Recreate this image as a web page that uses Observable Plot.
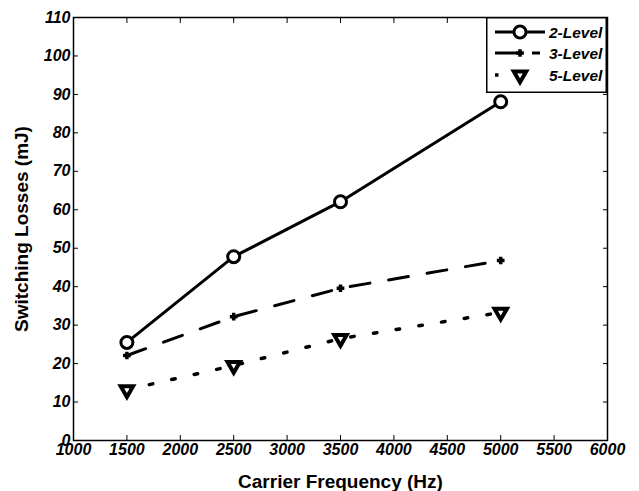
<!DOCTYPE html>
<html>
<head>
<meta charset="utf-8">
<script src="https://cdn.jsdelivr.net/npm/d3@7"></script>
<script src="https://cdn.jsdelivr.net/npm/@observablehq/plot@0.6"></script>
<style>
  html, body { margin: 0; padding: 0; background: #fff; }
  #wrap { position: relative; width: 639px; height: 491px; }
  #legend { position: absolute; left: 486px; top: 17px; }
  g[aria-label="x-axis tick label"], g[aria-label="y-axis tick label"] { font-size: 16px; }
</style>
</head>
<body>
<div id="wrap"></div>
<script>
const frequencies = [1500, 2500, 3500, 5000];
const level2 = [25.5, 47.8, 62.1, 88.1];
const level3 = [22.1, 32.2, 39.6, 46.8];
const level5 = [13.2, 19.5, 26.5, 33.3];
const seriesNames = ["2-Level", "3-Level", "5-Level"];
const xTicks = [1000, 1500, 2000, 2500, 3000, 3500, 4000, 4500, 5000, 5500, 6000];
const yTicks = [0, 10, 20, 30, 40, 50, 60, 70, 80, 90, 100, 110];

const rows = (vals, name) => frequencies.map((f, i) => ({f, v: vals[i], s: name}));
const d2 = rows(level2, seriesNames[0]);
const d3r = rows(level3, seriesNames[1]);
const d5 = rows(level5, seriesNames[2]);

const font = "'Liberation Sans', Arial, Helvetica, sans-serif";
const blank = () => "";
const plain = d3.format("d");

const chart = Plot.plot({
  width: 639,
  height: 491,
  marginLeft: 73,
  marginRight: 32,
  marginTop: 17,
  marginBottom: 51,
  x: {domain: [1000, 6000]},
  y: {domain: [0, 110]},
  style: {fontFamily: font, fontSize: "16px", fontWeight: "bold", fontStyle: "italic", color: "black", background: "white"},
  marks: [
    // tick labels
    Plot.axisX(xTicks, {anchor: "bottom", tickSize: 0, tickPadding: 3, label: null, tickFormat: plain, fontSize: 16, fontWeight: "bold", fontStyle: "italic"}),
    Plot.axisY(yTicks, {anchor: "left", tickSize: 0, tickPadding: 3, label: null, tickFormat: plain, fontSize: 16, fontWeight: "bold", fontStyle: "italic"}),
    // inward ticks on all four sides
    Plot.axisX(xTicks, {anchor: "bottom", tickSize: 5, dy: -5, tickFormat: blank, label: null, strokeWidth: 1}),
    Plot.axisX(xTicks, {anchor: "top", tickSize: 5, dy: 5, tickFormat: blank, label: null, strokeWidth: 1}),
    Plot.axisY(yTicks, {anchor: "left", tickSize: 5, dx: 5, tickFormat: blank, label: null, strokeWidth: 1}),
    Plot.axisY(yTicks, {anchor: "right", tickSize: 5, dx: -5, tickFormat: blank, label: null, strokeWidth: 1}),
    // axis titles
    Plot.axisX([], {anchor: "bottom", tickSize: 0, label: "Carrier Frequency (Hz)", labelAnchor: "center", labelArrow: "none", labelOffset: 47, fontSize: 19, fontWeight: "bold", fontStyle: "normal"}),
    Plot.axisY([], {anchor: "left", tickSize: 0, label: "Switching Losses (mJ)", labelAnchor: "center", labelArrow: "none", labelOffset: 59, fontSize: 19, fontWeight: "bold", fontStyle: "normal"}),
    Plot.frame({stroke: "black", strokeWidth: 1.5}),
    // series
    Plot.line(d2, {x: "f", y: "v", stroke: "black", strokeWidth: 3}),
    Plot.line(d3r, {x: "f", y: "v", stroke: "black", strokeWidth: 3, strokeDasharray: "20,19"}),
    Plot.line(d5, {x: "f", y: "v", stroke: "black", strokeWidth: 3.5, strokeDasharray: "3.5,19.5"}),
    Plot.dot(d2, {x: "f", y: "v", r: 6, stroke: "black", strokeWidth: 3, fill: "white"}),
    Plot.dot(d3r, {x: "f", y: "v", r: 2.6, symbol: "plus", stroke: "black", strokeWidth: 3.5}),
    Plot.dot(d5, {x: "f", y: "v", r: 4.6, symbol: "triangle", rotate: 180, stroke: "black", strokeWidth: 4, fill: "white"})
  ]
});

const wrap = document.getElementById("wrap");
wrap.appendChild(chart);
d3.select(chart).selectAll('g[aria-label="x-axis tick label"], g[aria-label="y-axis tick label"]')
  .attr("font-size", 16).style("font-size", "16px");

// legend (in-axes box, MATLAB style)
const lg = d3.create("svg").attr("id", "legend").attr("width", 121).attr("height", 76)
  .style("overflow", "hidden");
lg.append("rect").attr("x", 0.75).attr("y", 0.75).attr("width", 119.5).attr("height", 74.5)
  .attr("fill", "white").attr("stroke", "black").attr("stroke-width", 1.5);
const rowY = [15, 36, 58];
const dashes = [null, "25,12,8,30", "3.5,100"];
seriesNames.forEach((name, i) => {
  const y = rowY[i];
  lg.append("line").attr("x1", 9).attr("x2", 59).attr("y1", y).attr("y2", y)
    .attr("stroke", "black").attr("stroke-width", i === 2 ? 3.5 : 3)
    .attr("stroke-dasharray", dashes[i]);
  const m = d3.symbol().type([d3.symbolCircle, d3.symbolPlus, d3.symbolTriangle][i])
    .size(Math.PI * Math.pow([6, 2.6, 4.6][i], 2));
  lg.append("path").attr("d", m())
    .attr("transform", `translate(34,${y})` + (i === 2 ? " rotate(180)" : ""))
    .attr("fill", i === 1 ? "none" : "white").attr("stroke", "black")
    .attr("stroke-width", [3, 3.5, 4][i]);
  lg.append("text").attr("x", 63).attr("y", y).attr("dy", "0.36em")
    .attr("font-family", font).attr("font-size", 15.5).attr("font-weight", "bold")
    .attr("font-style", "italic").text(name);
});
wrap.appendChild(lg.node());
</script>
</body>
</html>
